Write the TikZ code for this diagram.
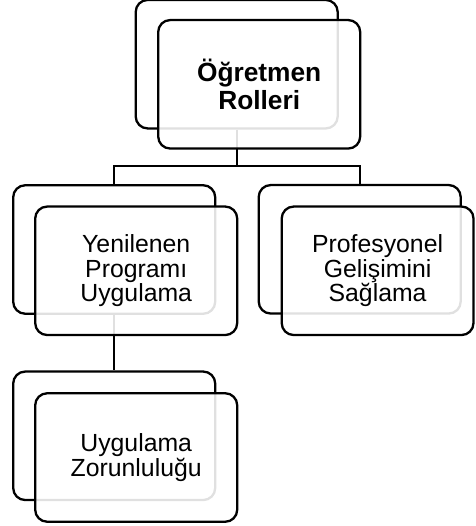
\documentclass[tikz,border=0pt]{standalone}
\usepackage{fontspec}
\setmainfont{Liberation Sans}
\begin{document}
\begin{tikzpicture}[x=1pt,y=-1pt,
  card/.style={draw=black, line width=2.3pt, rounded corners=12pt,
    minimum width=202pt, minimum height=128.5pt, inner sep=0pt,
    fill=white},
  backcard/.style={card},
  frontcard/.style={card, fill opacity=0.88, text opacity=1,
    align=center, text=black},
  link/.style={draw=black, line width=2.3pt},
  toptext/.style={font=\fontsize{26.3}{27.5}\selectfont\bfseries},
  subtext/.style={font=\fontsize{24.8}{24.5}\selectfont}]
\useasboundingbox (0,0) rectangle (475,526);

% back cards
\node[backcard] (tb) at (236.7,64.2) {};
\node[backcard] (lb) at (114.2,249.5) {};
\node[backcard] (rb) at (359.7,249.3) {};
\node[backcard] (bb) at (114.2,435.8) {};

% tree connectors, running from the back cards
\coordinate (bus) at (0,166);
\draw[link] (tb.south) -- (tb.south |- bus);
\draw[link] (lb.north) -- (lb.north |- bus) -- (rb.north |- bus) -- (rb.north);
\draw[link] (lb.south) -- (bb.north);

% front cards with the labels
\node[frontcard, toptext] (tf) at (259.2,84.3) {Öğretmen\\Rolleri};
\node[frontcard, subtext] (lf) at (136.2,270.8) {Yenilenen\\Programı\\Uygulama};
\node[frontcard, subtext, minimum width=191.8pt] (rf) at (377.6,270.8) {Profesyonel\\Gelişimini\\Sağlama};
\node[frontcard, subtext] (bf) at (136.2,457.5) {Uygulama\\Zorunluluğu};
\end{tikzpicture}
\end{document}
